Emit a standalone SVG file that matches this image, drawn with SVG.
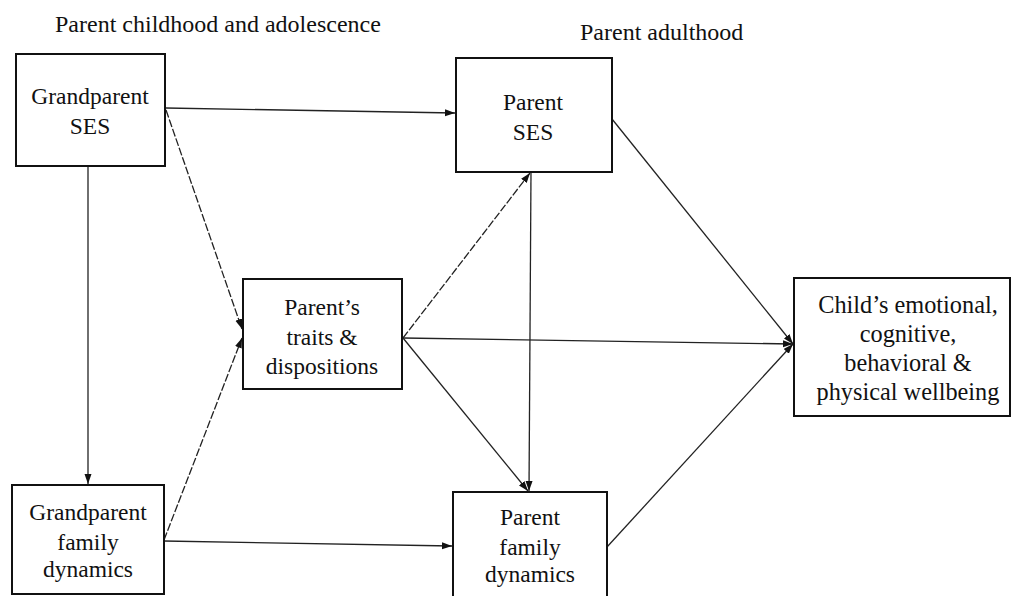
<svg xmlns="http://www.w3.org/2000/svg" width="1014" height="596" viewBox="0 0 1014 596">
<defs>
<style>
.box{fill:#fff;stroke:#111;stroke-width:2}
.t{font-size:23.5px;fill:#111;text-anchor:middle}
.t2{font-size:24.3px;fill:#111;text-anchor:middle}
.h{font-size:24px;fill:#111}
.c{fill:none;stroke:#222;stroke-width:1.3}
.d{stroke-dasharray:8 2}
</style>
<marker id="ah" markerUnits="userSpaceOnUse" markerWidth="11" markerHeight="8" refX="10" refY="3.5" orient="auto">
<path d="M0,0 L10,3.5 L0,7 z" fill="#111"/>
</marker>
</defs>
<rect width="1014" height="596" fill="#fff"/>
<g font-family="Liberation Serif, serif">
<text class="h" x="55" y="32">Parent childhood and adolescence</text>
<text class="h" x="580" y="40">Parent adulthood</text>
</g>
<g id="connectors">
<line class="c" x1="166" y1="108" x2="455" y2="113" marker-end="url(#ah)"/>
<line class="c" x1="88" y1="166" x2="88" y2="484" marker-end="url(#ah)"/>
<line class="c d" x1="166" y1="110" x2="242" y2="329" marker-end="url(#ah)"/>
<line class="c d" x1="164" y1="540" x2="242" y2="338" marker-end="url(#ah)"/>
<line class="c" x1="164" y1="541" x2="452" y2="546" marker-end="url(#ah)"/>
<line class="c d" x1="403" y1="338" x2="530" y2="173" marker-end="url(#ah)"/>
<line class="c" x1="403" y1="338" x2="793" y2="344" marker-end="url(#ah)"/>
<line class="c" x1="403" y1="338" x2="528" y2="491" marker-end="url(#ah)"/>
<line class="c" x1="531" y1="172" x2="529" y2="491" marker-end="url(#ah)"/>
<line class="c" x1="612" y1="119" x2="793" y2="344" marker-end="url(#ah)"/>
<line class="c" x1="607" y1="547" x2="793" y2="344" marker-end="url(#ah)"/>
</g>
<g font-family="Liberation Serif, serif">
<g id="gp-ses">
<rect class="box" x="16" y="54" width="149" height="112"/>
<text class="t" x="90" y="104">Grandparent</text>
<text class="t" x="90" y="134">SES</text>
</g>
<g id="parent-ses">
<rect class="box" x="456" y="58" width="156" height="114"/>
<text class="t" x="533" y="110">Parent</text>
<text class="t" x="533" y="140">SES</text>
</g>
<g id="traits">
<rect class="box" x="243" y="279" width="159" height="110"/>
<text class="t" x="322" y="315">Parent’s</text>
<text class="t" x="322" y="345">traits &amp;</text>
<text class="t" x="322" y="374">dispositions</text>
</g>
<g id="child">
<rect class="box" x="794" y="278" width="216" height="138"/>
<text class="t2" x="908" y="313">Child’s emotional,</text>
<text class="t2" x="908" y="342">cognitive,</text>
<text class="t2" x="908" y="371">behavioral &amp;</text>
<text class="t2" x="908" y="400">physical wellbeing</text>
</g>
<g id="gp-fd">
<rect class="box" x="12" y="485" width="152" height="109"/>
<text class="t" x="88" y="520">Grandparent</text>
<text class="t" x="88" y="550">family</text>
<text class="t" x="88" y="577">dynamics</text>
</g>
<g id="parent-fd">
<rect class="box" x="453" y="492" width="154" height="106"/>
<text class="t" x="530" y="525">Parent</text>
<text class="t" x="530" y="555">family</text>
<text class="t" x="530" y="582">dynamics</text>
</g>
</g>
</svg>
